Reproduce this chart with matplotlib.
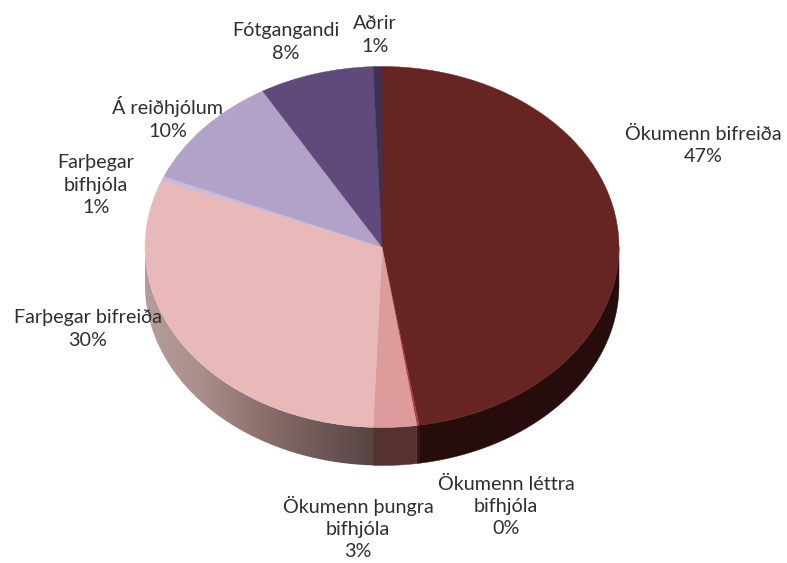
from matplotlib import pyplot as plt
from matplotlib.colors import LinearSegmentedColormap
from matplotlib.patches import Polygon
import numpy as np

plt.rcParams['font.family'] = ['Lato', 'DejaVu Sans']

W, H = 787, 563
CX, CY = 382, 247
RX, RY = 237, 180.5
DEPTH = 38 / RY

categories = ['Ökumenn bifreiða', 'Ökumenn léttra\nbifhjóla', 'Ökumenn þungra\nbifhjóla',
              'Farþegar bifreiða', 'Farþegar\nbifhjóla', 'Á reiðhjólum', 'Fótgangandi', 'Aðrir']
shown_pct = [47, 0, 3, 30, 1, 10, 8, 1]
# the shares (labels are rounded in the original)
values = [47.5, 0.15, 2.95, 30.4, 0.4, 10.2, 7.8, 0.6]
colors = ['#662523', '#a8403f', '#dd9b9b', '#e9b9b9', '#c9bbdb', '#b3a2c7', '#604a7b', '#403152']
rim_colors = ['#260c0a', '#3a1513', '#55312f', '#574442', '#574442', '#574442', '#574442', '#574442']
pink_rim = LinearSegmentedColormap.from_list(
    'pink_rim', ['#b59d9a', '#a98e8b', '#8e706e', '#6f5a58', '#574442'])
# label centre in pixels
label_xy = [(703, 145), (506, 506), (358, 528), (88, 329),
            (96, 185), (168, 118), (286, 42), (375, 35)]

fig = plt.figure(figsize=(W / 100, H / 100), dpi=100)
ax = fig.add_axes([0, 0, 1, 1])


def rim_poly(t0, t1):
    t = np.linspace(t0, t1, 80)
    x, y = np.sin(t), np.cos(t)
    return np.r_[np.c_[x, y], np.c_[x[::-1], y[::-1] - DEPTH]]


edges = np.r_[0, np.cumsum(values)] / np.sum(values) * 2 * np.pi
for i in range(len(values)):
    t0, t1 = max(edges[i], np.pi / 2), min(edges[i + 1], 3 * np.pi / 2)
    if t1 <= t0:
        continue
    if i == 3:
        clip = Polygon(rim_poly(t0, t1), closed=True, transform=ax.transData,
                       fc='none', ec='none')
        ax.add_patch(clip)
        im = ax.imshow(np.linspace(0, 1, 256)[None, :], cmap=pink_rim, aspect='auto',
                       extent=(-1, np.sin(t0), -1.3, 0.1), zorder=1)
        im.set_clip_path(clip)
    else:
        ax.add_patch(Polygon(rim_poly(t0, t1), closed=True, fc=rim_colors[i], ec=rim_colors[i],
                             lw=0.3, zorder=1))

wedges, _ = ax.pie(values, colors=colors, startangle=90, counterclock=False, radius=1,
                   wedgeprops=dict(linewidth=0.3, zorder=2), normalize=True)
for w, c in zip(wedges, colors):
    w.set_edgecolor(c)
    w.set_zorder(2)

ax.set_aspect('auto')
ax.set_xlim(-CX / RX, (W - CX) / RX)
ax.set_ylim((CY - H) / RY, CY / RY)
ax.axis('off')

for name, pct, (px, py) in zip(categories, shown_pct, label_xy):
    fig.text(px / W, 1 - py / H, f'{name}\n{pct}%', ha='center', va='center',
             fontsize=14.2, color='#2f2f2f', linespacing=1.36)

fig.savefig('out.png', dpi=100, facecolor='white')
